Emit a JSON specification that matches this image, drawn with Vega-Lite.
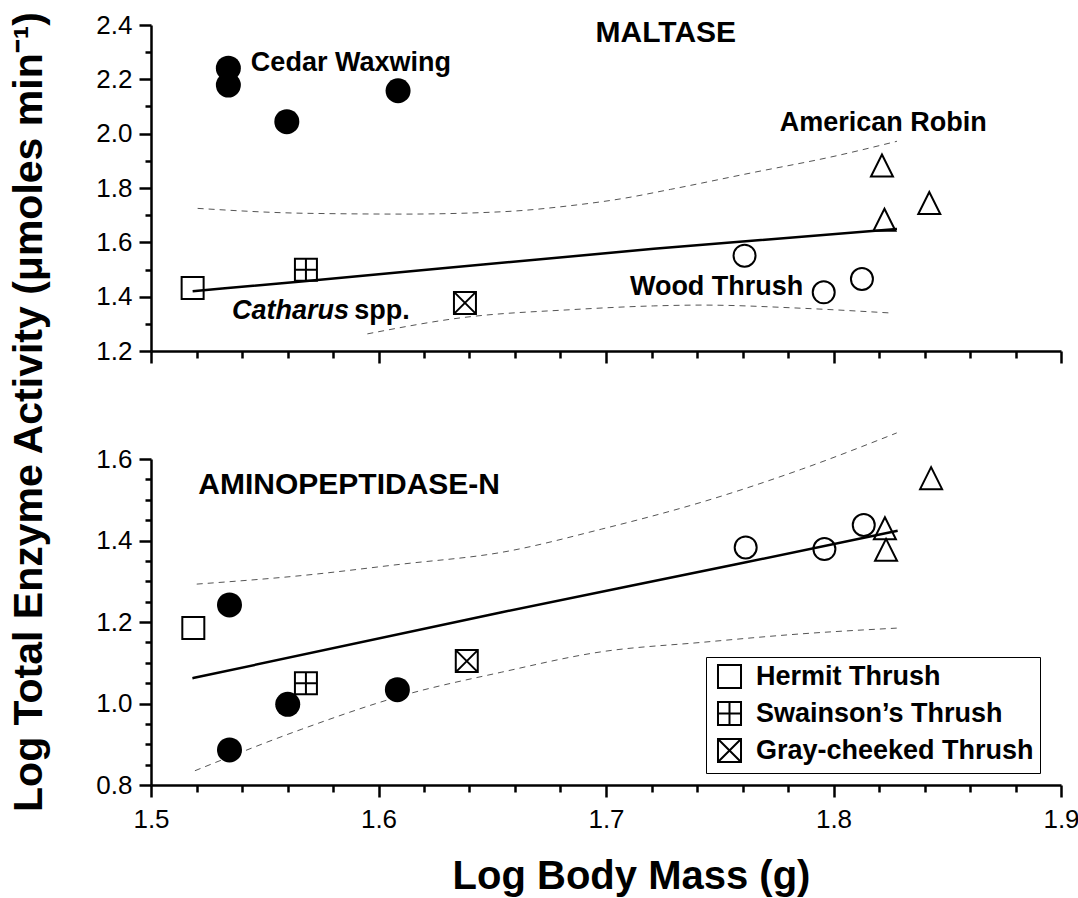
{
  "$schema": "https://vega.github.io/schema/vega-lite/v6.json",
  "background": "white",
  "padding": {"left": 8, "top": 12, "right": 4, "bottom": 4},
  "config": {
    "font": "Liberation Sans",
    "view": {"stroke": null},
    "axis": {
      "domainColor": "black", "domainWidth": 2.5,
      "labelColor": "black", "labelFont": "Liberation Sans", "labelFontSize": 26,
      "labelPadding": 7, "grid": false, "labelFlush": false, "labelOverlap": false
    }
  },
  "title": {
    "text": "Log Total Enzyme Activity (μmoles min⁻¹)",
    "orient": "left", "anchor": "end", "fontSize": 41, "fontWeight": "bold",
    "font": "Liberation Sans", "color": "black", "offset": 45
  },
  "datasets": {
    "pts": [
      {"panel": "M", "species": "Cedar Waxwing", "mass": 1.534, "act": 2.241},
      {"panel": "M", "species": "Cedar Waxwing", "mass": 1.534, "act": 2.179},
      {"panel": "M", "species": "Cedar Waxwing", "mass": 1.5597, "act": 2.044},
      {"panel": "M", "species": "Cedar Waxwing", "mass": 1.6086, "act": 2.158},
      {"panel": "M", "species": "Hermit Thrush", "mass": 1.5183, "act": 1.432},
      {"panel": "M", "species": "Swainson’s Thrush", "mass": 1.5681, "act": 1.499},
      {"panel": "M", "species": "Gray-cheeked Thrush", "mass": 1.638, "act": 1.377},
      {"panel": "M", "species": "Wood Thrush", "mass": 1.7609, "act": 1.551},
      {"panel": "M", "species": "Wood Thrush", "mass": 1.7957, "act": 1.416},
      {"panel": "M", "species": "Wood Thrush", "mass": 1.8125, "act": 1.465},
      {"panel": "M", "species": "American Robin", "mass": 1.8213, "act": 1.883},
      {"panel": "M", "species": "American Robin", "mass": 1.8224, "act": 1.683},
      {"panel": "M", "species": "American Robin", "mass": 1.8421, "act": 1.745},
      {"panel": "A", "species": "Hermit Thrush", "mass": 1.5186, "act": 1.185},
      {"panel": "A", "species": "Cedar Waxwing", "mass": 1.5345, "act": 1.242},
      {"panel": "A", "species": "Cedar Waxwing", "mass": 1.5601, "act": 0.998},
      {"panel": "A", "species": "Cedar Waxwing", "mass": 1.5345, "act": 0.886},
      {"panel": "A", "species": "Cedar Waxwing", "mass": 1.6083, "act": 1.034},
      {"panel": "A", "species": "Swainson’s Thrush", "mass": 1.5681, "act": 1.05},
      {"panel": "A", "species": "Gray-cheeked Thrush", "mass": 1.6388, "act": 1.104},
      {"panel": "A", "species": "Wood Thrush", "mass": 1.7614, "act": 1.383},
      {"panel": "A", "species": "Wood Thrush", "mass": 1.796, "act": 1.379},
      {"panel": "A", "species": "Wood Thrush", "mass": 1.8133, "act": 1.438},
      {"panel": "A", "species": "American Robin", "mass": 1.8226, "act": 1.43},
      {"panel": "A", "species": "American Robin", "mass": 1.8231, "act": 1.377},
      {"panel": "A", "species": "American Robin", "mass": 1.8429, "act": 1.553}
    ],
    "curves": [
      {"panel": "M", "kind": "fit", "mass": 1.5183, "act": 1.42},
      {"panel": "M", "kind": "fit", "mass": 1.5673, "act": 1.457},
      {"panel": "M", "kind": "fit", "mass": 1.721, "act": 1.576},
      {"panel": "M", "kind": "fit", "mass": 1.8279, "act": 1.649},
      {"panel": "M", "kind": "upper", "mass": 1.5205, "act": 1.725},
      {"panel": "M", "kind": "upper", "mass": 1.5673, "act": 1.707},
      {"panel": "M", "kind": "upper", "mass": 1.6113, "act": 1.704},
      {"panel": "M", "kind": "upper", "mass": 1.6553, "act": 1.713},
      {"panel": "M", "kind": "upper", "mass": 1.6844, "act": 1.735},
      {"panel": "M", "kind": "upper", "mass": 1.7064, "act": 1.76},
      {"panel": "M", "kind": "upper", "mass": 1.7284, "act": 1.795},
      {"panel": "M", "kind": "upper", "mass": 1.7635, "act": 1.855},
      {"panel": "M", "kind": "upper", "mass": 1.8015, "act": 1.919},
      {"panel": "M", "kind": "upper", "mass": 1.8279, "act": 1.972},
      {"panel": "M", "kind": "lower", "mass": 1.5951, "act": 1.263},
      {"panel": "M", "kind": "lower", "mass": 1.638, "act": 1.324},
      {"panel": "M", "kind": "lower", "mass": 1.6844, "act": 1.352},
      {"panel": "M", "kind": "lower", "mass": 1.721, "act": 1.366},
      {"panel": "M", "kind": "lower", "mass": 1.742, "act": 1.369},
      {"panel": "M", "kind": "lower", "mass": 1.787, "act": 1.357},
      {"panel": "M", "kind": "lower", "mass": 1.825, "act": 1.34},
      {"panel": "A", "kind": "fit", "mass": 1.5182, "act": 1.062},
      {"panel": "A", "kind": "fit", "mass": 1.6542, "act": 1.224},
      {"panel": "A", "kind": "fit", "mass": 1.7567, "act": 1.341},
      {"panel": "A", "kind": "fit", "mass": 1.8282, "act": 1.424},
      {"panel": "A", "kind": "upper", "mass": 1.5201, "act": 1.293},
      {"panel": "A", "kind": "upper", "mass": 1.5663, "act": 1.314},
      {"panel": "A", "kind": "upper", "mass": 1.6102, "act": 1.342},
      {"panel": "A", "kind": "upper", "mass": 1.6542, "act": 1.371},
      {"panel": "A", "kind": "upper", "mass": 1.6981, "act": 1.428},
      {"panel": "A", "kind": "upper", "mass": 1.742, "act": 1.494},
      {"panel": "A", "kind": "upper", "mass": 1.786, "act": 1.575},
      {"panel": "A", "kind": "upper", "mass": 1.8278, "act": 1.664},
      {"panel": "A", "kind": "lower", "mass": 1.5193, "act": 0.835},
      {"panel": "A", "kind": "lower", "mass": 1.5663, "act": 0.937},
      {"panel": "A", "kind": "lower", "mass": 1.6102, "act": 1.019},
      {"panel": "A", "kind": "lower", "mass": 1.6542, "act": 1.077},
      {"panel": "A", "kind": "lower", "mass": 1.6981, "act": 1.127},
      {"panel": "A", "kind": "lower", "mass": 1.742, "act": 1.15},
      {"panel": "A", "kind": "lower", "mass": 1.786, "act": 1.171},
      {"panel": "A", "kind": "lower", "mass": 1.8278, "act": 1.185}
    ],
    "labels": [
      {"panel": "M", "role": "panel", "text": "MALTASE", "mass": 1.6954, "act": 2.336},
      {"panel": "M", "role": "species", "text": "Cedar Waxwing", "mass": 1.5439, "act": 2.232},
      {"panel": "M", "role": "species", "text": "American Robin", "mass": 1.7764, "act": 2.009},
      {"panel": "M", "role": "species", "text": "Wood Thrush", "mass": 1.7105, "act": 1.406},
      {"panel": "M", "role": "genus", "text": "Catharus", "mass": 1.5356, "act": 1.318},
      {"panel": "M", "role": "species", "text": "spp.", "mass": 1.5893, "act": 1.318},
      {"panel": "A", "role": "panel", "text": "AMINOPEPTIDASE-N", "mass": 1.5208, "act": 1.514}
    ]
  },
  "bounds": "flush",
  "spacing": 108,
  "resolve": {"scale": {"shape": "independent"}, "legend": {"shape": "independent"}},
  "vconcat": [
    {
      "width": 910,
      "height": 326,
      "resolve": {"axis": {"x": "independent", "y": "independent"}},
      "layer": [
        {
          "data": {"name": "curves"},
          "transform": [{"filter": "datum.panel == 'M' && datum.kind != 'fit'"}],
          "mark": {"type": "line", "strokeDash": [6, 5], "strokeWidth": 1, "color": "#555555", "interpolate": "monotone"},
          "encoding": {
            "x": {"field": "mass", "type": "quantitative", "scale": {"domain": [1.5, 1.9], "nice": false, "zero": false},
                  "axis": {"orient": "bottom", "values": [1.5, 1.6, 1.7, 1.8, 1.9], "labels": false, "title": null, "ticks": true, "tickSize": 12, "tickWidth": 2.5, "tickColor": "black"}},
            "y": {"field": "act", "type": "quantitative", "scale": {"domain": [1.2, 2.4], "nice": false, "zero": false},
                  "axis": {"orient": "left", "values": [1.2, 1.4, 1.6, 1.8, 2.0, 2.2, 2.4], "format": ".1f", "title": null, "ticks": true, "tickSize": 12, "tickWidth": 2.5, "tickColor": "black"}},
            "detail": {"field": "kind", "type": "nominal"}
          }
        },
        {
          "data": {"name": "curves"},
          "transform": [{"filter": "datum.panel == 'M' && datum.kind == 'fit'"}],
          "mark": {"type": "line", "strokeWidth": 2.5, "color": "black", "interpolate": "monotone"},
          "encoding": {
            "x": {"field": "mass", "type": "quantitative", "scale": {"domain": [1.5, 1.9], "nice": false, "zero": false},
                  "axis": {"orient": "bottom", "values": [1.52, 1.54, 1.56, 1.58, 1.62, 1.64, 1.66, 1.68, 1.72, 1.74, 1.76, 1.78, 1.82, 1.84, 1.86, 1.88], "labels": false, "domain": false, "title": null, "ticks": true, "tickSize": 7, "tickWidth": 2.5, "tickColor": "black"}},
            "y": {"field": "act", "type": "quantitative", "scale": {"domain": [1.2, 2.4], "nice": false, "zero": false},
                  "axis": {"orient": "left", "values": [1.3, 1.5, 1.7, 1.9, 2.1, 2.3], "labels": false, "domain": false, "title": null, "ticks": true, "tickSize": 6, "tickWidth": 2.5, "tickColor": "black"}}
          }
        },
        {
          "data": {"name": "pts"},
          "transform": [{"filter": "datum.panel == 'M' && datum.species == 'Cedar Waxwing'"}],
          "mark": {"type": "point", "shape": "circle", "filled": true, "color": "black", "size": 625, "opacity": 1},
          "encoding": {
            "x": {"field": "mass", "type": "quantitative", "scale": {"domain": [1.5, 1.9], "nice": false, "zero": false}, "axis": null},
            "y": {"field": "act", "type": "quantitative", "scale": {"domain": [1.2, 2.4], "nice": false, "zero": false}, "axis": null}
          }
        },
        {
          "data": {"name": "pts"},
          "transform": [{"filter": "datum.panel == 'M' && datum.species != 'Cedar Waxwing'"}],
          "mark": {"type": "point", "filled": false, "color": "black", "strokeWidth": 2, "size": 484, "opacity": 1},
          "encoding": {
            "x": {"field": "mass", "type": "quantitative", "scale": {"domain": [1.5, 1.9], "nice": false, "zero": false}, "axis": null},
            "y": {"field": "act", "type": "quantitative", "scale": {"domain": [1.2, 2.4], "nice": false, "zero": false}, "axis": null},
            "shape": {
              "field": "species", "type": "nominal",
              "scale": {
                "domain": ["Hermit Thrush", "Swainson’s Thrush", "Gray-cheeked Thrush", "Wood Thrush", "American Robin"],
                "range": ["M-1,-1H1V1H-1Z", "M-1,-1H1V1H-1Z M0,-1V1 M-1,0H1", "M-1,-1H1V1H-1Z M-1,-1L1,1 M1,-1L-1,1", "circle", "M0,-1L1,1L-1,1Z"]
              },
              "legend": null
            }
          }
        },
        {
          "data": {"name": "labels"},
          "transform": [{"filter": "datum.panel == 'M' && datum.role == 'panel'"}],
          "mark": {"type": "text", "align": "left", "baseline": "alphabetic", "fontSize": 30, "fontWeight": "bold", "color": "black"},
          "encoding": {
            "x": {"field": "mass", "type": "quantitative", "scale": {"domain": [1.5, 1.9], "nice": false, "zero": false}, "axis": null},
            "y": {"field": "act", "type": "quantitative", "scale": {"domain": [1.2, 2.4], "nice": false, "zero": false}, "axis": null},
            "text": {"field": "text", "type": "nominal"}
          }
        },
        {
          "data": {"name": "labels"},
          "transform": [{"filter": "datum.panel == 'M' && datum.role == 'species'"}],
          "mark": {"type": "text", "align": "left", "baseline": "alphabetic", "fontSize": 27, "fontWeight": "bold", "color": "black"},
          "encoding": {
            "x": {"field": "mass", "type": "quantitative", "scale": {"domain": [1.5, 1.9], "nice": false, "zero": false}, "axis": null},
            "y": {"field": "act", "type": "quantitative", "scale": {"domain": [1.2, 2.4], "nice": false, "zero": false}, "axis": null},
            "text": {"field": "text", "type": "nominal"}
          }
        },
        {
          "data": {"name": "labels"},
          "transform": [{"filter": "datum.panel == 'M' && datum.role == 'genus'"}],
          "mark": {"type": "text", "align": "left", "baseline": "alphabetic", "fontSize": 27, "fontWeight": "bold", "fontStyle": "italic", "color": "black"},
          "encoding": {
            "x": {"field": "mass", "type": "quantitative", "scale": {"domain": [1.5, 1.9], "nice": false, "zero": false}, "axis": null},
            "y": {"field": "act", "type": "quantitative", "scale": {"domain": [1.2, 2.4], "nice": false, "zero": false}, "axis": null},
            "text": {"field": "text", "type": "nominal"}
          }
        }
      ]
    },
    {
      "width": 910,
      "height": 326,
      "resolve": {"axis": {"x": "independent", "y": "independent"}},
      "layer": [
        {
          "data": {"name": "curves"},
          "transform": [{"filter": "datum.panel == 'A' && datum.kind != 'fit'"}],
          "mark": {"type": "line", "strokeDash": [6, 5], "strokeWidth": 1, "color": "#555555", "interpolate": "monotone"},
          "encoding": {
            "x": {"field": "mass", "type": "quantitative", "scale": {"domain": [1.5, 1.9], "nice": false, "zero": false},
                  "axis": {"orient": "bottom", "values": [1.5, 1.6, 1.7, 1.8, 1.9], "format": ".1f", "ticks": true, "tickSize": 12, "tickWidth": 2.5, "tickColor": "black", "labelPadding": 9,
                           "title": "Log Body Mass (g)", "titleFontSize": 40, "titleFontWeight": "bold",
                           "titleColor": "black", "titleFont": "Liberation Sans", "titlePadding": 24, "titleX": 480}},
            "y": {"field": "act", "type": "quantitative", "scale": {"domain": [0.8, 1.6], "nice": false, "zero": false},
                  "axis": {"orient": "left", "values": [0.8, 1.0, 1.2, 1.4, 1.6], "format": ".1f", "title": null, "ticks": true, "tickSize": 12, "tickWidth": 2.5, "tickColor": "black"}},
            "detail": {"field": "kind", "type": "nominal"}
          }
        },
        {
          "data": {"name": "curves"},
          "transform": [{"filter": "datum.panel == 'A' && datum.kind == 'fit'"}],
          "mark": {"type": "line", "strokeWidth": 2.5, "color": "black", "interpolate": "monotone"},
          "encoding": {
            "x": {"field": "mass", "type": "quantitative", "scale": {"domain": [1.5, 1.9], "nice": false, "zero": false},
                  "axis": {"orient": "bottom", "values": [1.52, 1.54, 1.56, 1.58, 1.62, 1.64, 1.66, 1.68, 1.72, 1.74, 1.76, 1.78, 1.82, 1.84, 1.86, 1.88], "labels": false, "domain": false, "title": null, "ticks": true, "tickSize": 7, "tickWidth": 2.5, "tickColor": "black"}},
            "y": {"field": "act", "type": "quantitative", "scale": {"domain": [0.8, 1.6], "nice": false, "zero": false},
                  "axis": {"orient": "left", "values": [0.85, 0.9, 0.95, 1.05, 1.1, 1.15, 1.25, 1.3, 1.35, 1.45, 1.5, 1.55], "labels": false, "domain": false, "title": null, "ticks": true, "tickSize": 6, "tickWidth": 2.5, "tickColor": "black"}}
          }
        },
        {
          "data": {"name": "pts"},
          "transform": [{"filter": "datum.panel == 'A' && datum.species == 'Cedar Waxwing'"}],
          "mark": {"type": "point", "shape": "circle", "filled": true, "color": "black", "size": 625, "opacity": 1},
          "encoding": {
            "x": {"field": "mass", "type": "quantitative", "scale": {"domain": [1.5, 1.9], "nice": false, "zero": false}, "axis": null},
            "y": {"field": "act", "type": "quantitative", "scale": {"domain": [0.8, 1.6], "nice": false, "zero": false}, "axis": null}
          }
        },
        {
          "data": {"name": "pts"},
          "transform": [{"filter": "datum.panel == 'A' && datum.species != 'Cedar Waxwing'"}],
          "mark": {"type": "point", "filled": false, "color": "black", "strokeWidth": 2, "size": 484, "opacity": 1},
          "encoding": {
            "x": {"field": "mass", "type": "quantitative", "scale": {"domain": [1.5, 1.9], "nice": false, "zero": false}, "axis": null},
            "y": {"field": "act", "type": "quantitative", "scale": {"domain": [0.8, 1.6], "nice": false, "zero": false}, "axis": null},
            "shape": {
              "field": "species", "type": "nominal",
              "scale": {
                "domain": ["Hermit Thrush", "Swainson’s Thrush", "Gray-cheeked Thrush", "Wood Thrush", "American Robin"],
                "range": ["M-1,-1H1V1H-1Z", "M-1,-1H1V1H-1Z M0,-1V1 M-1,0H1", "M-1,-1H1V1H-1Z M-1,-1L1,1 M1,-1L-1,1", "circle", "M0,-1L1,1L-1,1Z"]
              },
              "legend": {
                "values": ["Hermit Thrush", "Swainson’s Thrush", "Gray-cheeked Thrush"],
                "title": null, "orient": "none", "legendX": 555, "legendY": 198,
                "padding": 6, "rowPadding": 4, "symbolOffset": 4,
                "labelFont": "Liberation Sans", "labelFontSize": 27, "labelFontWeight": "bold", "labelColor": "black",
                "labelOffset": 13, "labelLimit": 400,
                "symbolSize": 530, "symbolStrokeWidth": 2, "symbolStrokeColor": "black", "symbolFillColor": "white",
                "strokeColor": "black",
                "encode": {"legend": {"update": {"strokeWidth": {"value": 2}}}}
              }
            }
          }
        },
        {
          "data": {"name": "labels"},
          "transform": [{"filter": "datum.panel == 'A' && datum.role == 'panel'"}],
          "mark": {"type": "text", "align": "left", "baseline": "alphabetic", "fontSize": 30, "fontWeight": "bold", "color": "black"},
          "encoding": {
            "x": {"field": "mass", "type": "quantitative", "scale": {"domain": [1.5, 1.9], "nice": false, "zero": false}, "axis": null},
            "y": {"field": "act", "type": "quantitative", "scale": {"domain": [0.8, 1.6], "nice": false, "zero": false}, "axis": null},
            "text": {"field": "text", "type": "nominal"}
          }
        }
      ]
    }
  ]
}
